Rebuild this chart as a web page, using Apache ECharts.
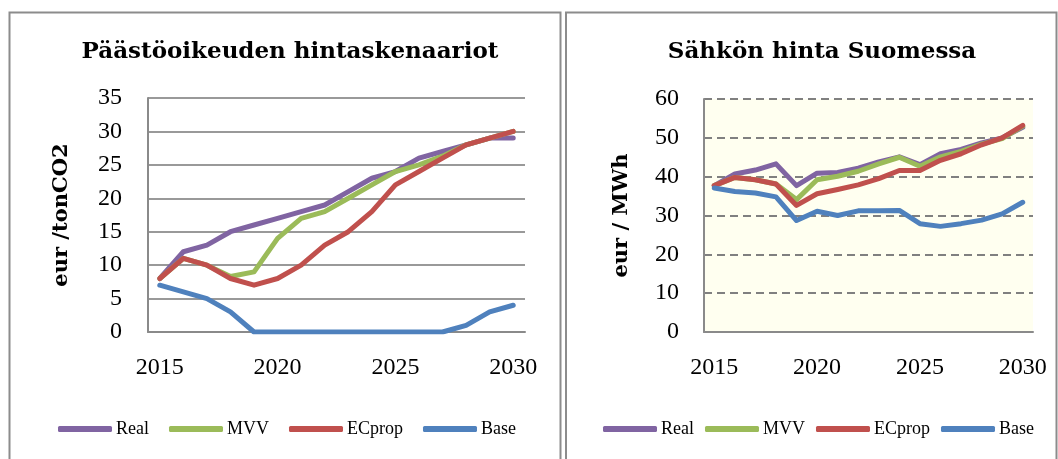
<!DOCTYPE html>
<html>
<head>
<meta charset="utf-8">
<script src="https://cdn.jsdelivr.net/npm/echarts@6/dist/echarts.min.js"></script>
<style>
  html, body { margin: 0; padding: 0; background: #fff; }
  #main { width: 1058px; height: 459px; }
</style>
</head>
<body>
<div id="main"></div>
<script>
// years on the x axis
var years = ['2015', '2016', '2017', '2018', '2019', '2020', '2021', '2022',
             '2023', '2024', '2025', '2026', '2027', '2028', '2029', '2030'];
var seriesNames = ['Real', 'MVV', 'ECprop', 'Base'];

// Päästöoikeuden hintaskenaariot, eur / tonCO2
var realCO2 = [8, 12, 13, 15, 16, 17, 18, 19, 21, 23, 24, 26, 27, 28, 29, 29];
var mvvCO2  = [8, 11, 10, 8.3, 9, 14, 17, 18, 20, 22, 24, 25, 26.3, 28, 29, 30];
var ecCO2   = [8, 11, 10, 8, 7, 8, 10, 13, 15, 18, 22, 24, 26, 28, 29, 30];
var baseCO2 = [7, 6, 5, 3, 0, 0, 0, 0, 0, 0, 0, 0, 0, 1, 3, 4];

// Sähkön hinta Suomessa, eur / MWh
var realEl = [37.7, 40.7, 41.7, 43.3, 37.7, 40.9, 41.1, 42.2, 43.8, 45.1, 43.1, 45.9, 47, 48.7, 50, 52.7];
var mvvEl  = [37.7, 39.8, 39.2, 38.1, 34.1, 39.2, 40.1, 41.4, 43.3, 45, 42.7, 45.1, 46.5, 48.4, 49.8, 53];
var ecEl   = [37.7, 39.8, 39.2, 38.1, 32.6, 35.6, 36.7, 37.9, 39.5, 41.6, 41.6, 44.2, 45.9, 48.2, 50, 53.2];
var baseEl = [37.1, 36.2, 35.8, 34.8, 28.7, 31.1, 30, 31.2, 31.2, 31.3, 27.9, 27.2, 27.9, 28.8, 30.4, 33.4];

var colors = ['#8064A2', '#9BBB59', '#C0504D', '#4F81BD'];
var serif = 'Liberation Serif';
var titleFont = 'DejaVu Serif';

function lineSeries(name, data, idx) {
  return {
    type: 'line',
    name: name,
    data: data,
    xAxisIndex: idx,
    yAxisIndex: idx,
    showSymbol: false,
    symbol: 'none',
    lineStyle: { width: 5, join: 'round', cap: 'round' },
    emphasis: { disabled: true }
  };
}

function xAxisFor(idx) {
  return {
    type: 'category',
    gridIndex: idx,
    data: years,
    boundaryGap: true,
    axisLine: { lineStyle: { color: '#8a8a8a', width: 2 } },
    axisTick: { show: false },
    axisLabel: { interval: 4, margin: 24, fontFamily: serif, fontSize: 24, color: '#000' }
  };
}

var chart = echarts.init(document.getElementById('main'));
chart.setOption({
  animation: false,
  color: colors,
  title: [{
    text: 'Päästöoikeuden hintaskenaariot',
    left: 285, top: 36, textAlign: 'center',
    textStyle: { fontFamily: titleFont, fontWeight: 'bold', fontSize: 23, color: '#000' }
  }, {
    text: 'Sähkön hinta Suomessa',
    left: 817, top: 36, textAlign: 'center',
    textStyle: { fontFamily: titleFont, fontWeight: 'bold', fontSize: 23, color: '#000' }
  }],
  legend: [{
    data: seriesNames,
    left: 58, top: 420, padding: 0,
    itemWidth: 54, itemHeight: 6, itemGap: 20,
    icon: 'roundRect',
    textStyle: { fontFamily: serif, fontSize: 18, color: '#000', padding: [0, 0, 0, -1] }
  }, {
    data: seriesNames,
    left: 603, top: 420, padding: 0,
    itemWidth: 54, itemHeight: 6, itemGap: 11,
    icon: 'roundRect',
    textStyle: { fontFamily: serif, fontSize: 18, color: '#000', padding: [0, 0, 0, -1] }
  }],
  grid: [
    { left: 148, top: 98, width: 377, height: 234, containLabel: false },
    { left: 704, top: 99, width: 329, height: 233, containLabel: false,
      show: true, backgroundColor: '#FFFFF0', borderWidth: 0 }
  ],
  xAxis: [xAxisFor(0), xAxisFor(1)],
  yAxis: [{
    type: 'value',
    gridIndex: 0,
    min: 0, max: 35, interval: 5,
    name: 'eur /tonCO2',
    nameLocation: 'middle',
    nameGap: 76,
    nameTextStyle: { fontFamily: titleFont, fontWeight: 'bold', fontSize: 21, color: '#000' },
    axisLine: { show: true, lineStyle: { color: '#8a8a8a', width: 2 } },
    axisTick: { show: false },
    axisLabel: { margin: 26, fontFamily: serif, fontSize: 24, color: '#000' },
    splitLine: { lineStyle: { color: '#999', width: 2 } }
  }, {
    type: 'value',
    gridIndex: 1,
    min: 0, max: 60, interval: 10,
    name: 'eur / MWh',
    nameLocation: 'middle',
    nameGap: 72,
    nameTextStyle: { fontFamily: titleFont, fontWeight: 'bold', fontSize: 21, color: '#000' },
    axisLine: { show: true, lineStyle: { color: '#8a8a8a', width: 2 } },
    axisTick: { show: false },
    axisLabel: { margin: 25, fontFamily: serif, fontSize: 24, color: '#000' },
    splitLine: { lineStyle: { color: '#808080', width: 2, type: [8, 5] } }
  }],
  series: [
    lineSeries('Real', realCO2, 0),
    lineSeries('MVV', mvvCO2, 0),
    lineSeries('ECprop', ecCO2, 0),
    lineSeries('Base', baseCO2, 0),
    lineSeries('Real', realEl, 1),
    lineSeries('MVV', mvvEl, 1),
    lineSeries('ECprop', ecEl, 1),
    lineSeries('Base', baseEl, 1)
  ],
  graphic: [
    { type: 'rect', shape: { x: 9.5, y: 12.5, width: 551, height: 470 },
      style: { fill: 'none', stroke: '#8c8c8c', lineWidth: 2 }, silent: true, z: -1 },
    { type: 'rect', shape: { x: 566, y: 12.5, width: 490.5, height: 470 },
      style: { fill: 'none', stroke: '#8c8c8c', lineWidth: 2 }, silent: true, z: -1 }
  ]
});
</script>
</body>
</html>
